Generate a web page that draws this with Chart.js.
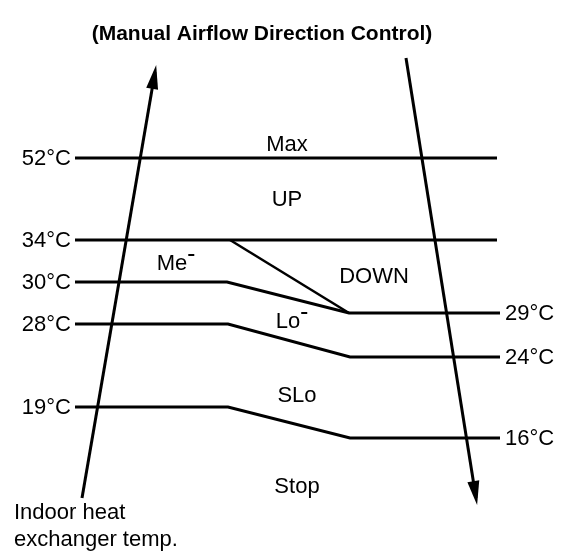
<!DOCTYPE html>
<html>
<head>
<meta charset="utf-8">
<script src="https://cdn.jsdelivr.net/npm/chart.js@4.4.0/dist/chart.umd.min.js"></script>
<style>
  html, body { margin: 0; padding: 0; background: #fff; }
  #chart { display: block; }
</style>
</head>
<body>
<canvas id="chart" width="570" height="552"></canvas>
<script>
// diagram units: x 0..570 across, y 0..552 downwards
const title = "(Manual Airflow Direction Control)";
const leftTemps = ["52°C", "34°C", "30°C", "28°C", "19°C"];
const rightTemps = ["29°C", "24°C", "16°C"];
const zones = ["Max", "UP", "Me", "DOWN", "Lo", "SLo", "Stop"];
const zoneSup = [false, false, true, false, true, false, false];
const zoneAt = [[287, 145], [287, 200], [176, 264], [374, 277], [292, 322], [297, 396], [297, 487]];
const axisNote = ["Indoor heat", "exchanger temp."];

// threshold lines
const line52 = [[75, 158], [497, 158]];
const line34 = [[75, 240], [497, 240]];
const line34Down = [[230, 240], [349, 313]];
const line30 = [[75, 282], [227, 282], [349, 313], [500, 313]];
const line28 = [[75, 324], [228, 324], [350, 357], [500, 357]];
const line19 = [[75, 407], [228, 407], [350, 438], [500, 438]];
// temperature arrows (start -> end)
const riseArrow = [[82, 498], [155, 72]];
const fallArrow = [[406, 58], [476, 498]];

const FONT = "'Liberation Sans', Arial, sans-serif";

function toPts(arr) {
  return arr.map(p => ({ x: p[0], y: p[1] }));
}

function lineSet(arr, w) {
  return {
    data: toPts(arr),
    showLine: true,
    borderColor: "#000",
    borderWidth: w,
    pointRadius: 0,
    tension: 0,
    fill: false,
  };
}

const diagramText = {
  id: "diagramText",
  afterDatasetsDraw(chart) {
    const { ctx, scales: { x, y } } = chart;
    const px = p => [x.getPixelForValue(p[0]), y.getPixelForValue(p[1])];
    ctx.save();
    ctx.fillStyle = "#000";

    // arrow heads
    [riseArrow, fallArrow].forEach(a => {
      const [x0, y0] = px(a[0]);
      const [x1, y1] = px(a[1]);
      const ang = Math.atan2(y1 - y0, x1 - x0);
      ctx.save();
      ctx.translate(x1, y1);
      ctx.rotate(ang);
      ctx.beginPath();
      ctx.moveTo(7, 0);
      ctx.lineTo(-17, -6);
      ctx.lineTo(-17, 6);
      ctx.closePath();
      ctx.fill();
      ctx.restore();
    });

    ctx.textBaseline = "middle";

    // title
    ctx.font = "bold 21px " + FONT;
    ctx.textAlign = "center";
    ctx.fillText(title, x.getPixelForValue(262), y.getPixelForValue(34));

    ctx.font = "22px " + FONT;
    // left temperatures at line starts
    ctx.textAlign = "right";
    [line52, line34, line30, line28, line19].forEach((l, i) => {
      const [lx, ly] = px(l[0]);
      ctx.fillText(leftTemps[i], lx - 4, ly + 1);
    });
    // right temperatures at line ends
    ctx.textAlign = "left";
    [line30, line28, line19].forEach((l, i) => {
      const [lx, ly] = px(l[l.length - 1]);
      ctx.fillText(rightTemps[i], lx + 5, ly + 1);
    });

    // zone names
    zones.forEach((z, i) => {
      const [cx, cy] = px(zoneAt[i]);
      const w = ctx.measureText(z).width;
      const supW = zoneSup[i] ? 8 : 0;
      const sx = cx - (w + supW) / 2;
      ctx.fillText(z, sx, cy);
      if (zoneSup[i]) {
        ctx.fillRect(sx + w + 1, cy - 10, 6, 2);
      }
    });

    // axis note
    axisNote.forEach((t, i) => {
      ctx.fillText(t, x.getPixelForValue(14), y.getPixelForValue(513 + i * 27));
    });
    ctx.restore();
  },
};

new Chart(document.getElementById("chart"), {
  type: "scatter",
  data: {
    datasets: [
      lineSet(line52, 3),
      lineSet(line34, 3),
      lineSet(line34Down, 2.5),
      lineSet(line30, 3),
      lineSet(line28, 3),
      lineSet(line19, 3),
      lineSet(riseArrow, 3),
      lineSet(fallArrow, 3),
    ],
  },
  options: {
    responsive: false,
    animation: false,
    layout: { padding: 0 },
    plugins: { legend: { display: false }, tooltip: { enabled: false } },
    scales: {
      x: { type: "linear", min: 0, max: 570, display: false },
      y: { type: "linear", min: 0, max: 552, reverse: true, display: false },
    },
  },
  plugins: [diagramText],
});
</script>
</body>
</html>
